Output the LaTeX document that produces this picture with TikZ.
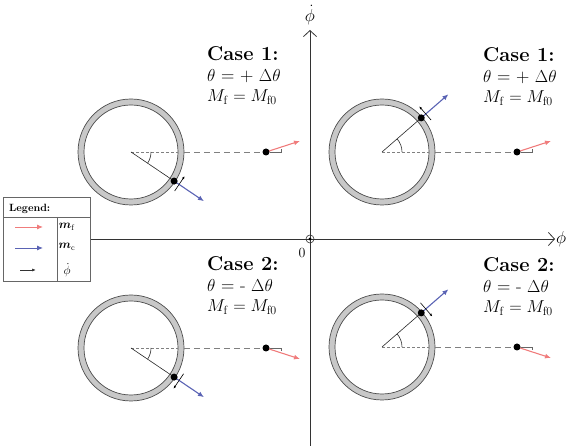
\documentclass[tikz,border=0pt]{standalone}
\usepackage{amsmath}
\usepackage{amssymb}
\usepackage{tikz}
\usetikzlibrary{arrows.meta, calc}
\definecolor{fred}{HTML}{F07C7C}
\definecolor{cblue}{HTML}{5A63B4}
\definecolor{ringgray}{HTML}{C8C8C8}
\definecolor{guidegray}{HTML}{808080}

\begin{document}
\begin{tikzpicture}[x=1pt, y=1pt,
    ring/.style    = {fill=ringgray, draw=black!70, line width=0.7pt, even odd rule},
    radline/.style = {draw=black!85, line width=0.6pt},
    guide/.style   = {draw=guidegray, line width=0.8pt, dash pattern=on 6pt off 4pt},
    guidein/.style = {draw=guidegray, line width=0.8pt, dash pattern=on 2.5pt off 2.5pt},
    fvec/.style    = {-{Latex[length=6pt,width=5pt]}, draw=fred, line width=1.1pt},
    cvec/.style    = {-{Latex[length=6pt,width=5pt]}, draw=cblue, line width=1.1pt},
    rate/.style    = {-{Latex[length=3pt,width=2.5pt]}, draw=black, line width=0.6pt},
    marker/.style  = {draw=black!60, line width=0.4pt},
    axis/.style    = {-{Straight Barb[length=6pt,width=13pt]}, draw=black!80, line width=0.8pt},
    casehead/.style= {anchor=base west, inner sep=0pt, font=\fontsize{20}{22}\selectfont\bfseries},
    caseeq/.style  = {anchor=base west, inner sep=0pt, font=\fontsize{18.5}{21}\selectfont},
    legtext/.style = {inner sep=0pt, font=\fontsize{11.5}{13}\selectfont}
  ]
  \useasboundingbox (0,0) rectangle (567,446);

  % axes
  \coordinate (xs) at (90,207);
  \coordinate (xe) at (555,207);
  \coordinate (ys) at (310,0);
  \coordinate (ye) at (310,416);
  \draw[axis] (xs) -- (xe);
  \draw[axis] (ys) -- (ye);
  \node[inner sep=0pt, font=\fontsize{16}{18}\selectfont] (xlab) at (561,207) {$\phi$};
  \node[inner sep=0pt, font=\fontsize{16}{18}\selectfont] (ylab) at (310,431) {$\dot{\phi}$};
  \node[circle, draw=black!80, line width=0.6pt, minimum size=8pt, inner sep=0pt] (origin) at (310,207) {};
  \fill (origin) circle[radius=1.6];
  \node[inner sep=0pt, font=\fontsize{14}{16}\selectfont] (zero) at (302,193) {0};

  % four cases
  \foreach \q/\cx/\cy/\ang/\sgn/\tx/\ty/\cs/\sg in {
      tl/131/294/-34/1/207/385/1/+,
      tr/382/294/41/1/483/384/1/+,
      bl/131/98/-34/-1/207/175/2/-,
      br/382/99/41/-1/483/174/2/-} {
    \pgfmathsetmacro\tang{\ang+90*\sgn}
    \pgfmathsetmacro\tback{\tang+180}
    \coordinate (c\q) at (\cx,\cy);
    \coordinate (e\q) at ($(c\q)+(53,0)$);
    \coordinate (i\q) at ($(c\q)+(47,0)$);
    \coordinate (d\q) at ($(c\q)+(\ang:52)$);
    \coordinate (r\q) at ($(c\q)+(135,0)$);
    \coordinate (rt\q) at ($(r\q)+(34,{11*\sgn})$);
    \coordinate (bt\q) at ($(d\q)+(\ang:36)$);
    \coordinate (ta\q) at ($(c\q)+(\ang:58)+(\tback:8)$);
    \coordinate (tb\q) at ($(c\q)+(\ang:58)+(\tang:10)$);

    \path[ring] (c\q) circle[radius=53] (c\q) circle[radius=47];
    \draw[guidein] (c\q) -- (i\q);
    \draw[guide] (e\q) -- (r\q);
    \draw[radline] (c\q) -- (d\q);
    \draw[radline] ($(c\q)+(20,0)$) arc[start angle=0, end angle=\ang, radius=20];
    \draw[marker] ($(r\q)+(4,0)$) -- ++(11,0) -- ++(0,{3*\sgn});
    \draw[fvec] (r\q) -- (rt\q);
    \draw[cvec] (d\q) -- (bt\q);
    \draw[rate] (ta\q) -- (tb\q);
    \fill (d\q) circle[radius=3.5];
    \fill (r\q) circle[radius=3.5];

    \node[casehead] (h\q) at (\tx,\ty) {Case \cs:};
    \node[caseeq] (t\q) at (\tx,\ty-21) {$\theta$ = \sg{} $\Delta\theta$};
    \node[caseeq] (m\q) at (\tx,\ty-41) {$M_\mathrm{f} = M_\mathrm{f0}$};
  }

  % legend
  \draw[line width=0.6pt, draw=black!60] (3,165) rectangle (90,249);
  \draw[line width=0.6pt, draw=black!60] (3,229) -- (90,229);
  \draw[line width=0.6pt, draw=black!60] (57,229) -- (57,165);
  \node[anchor=west, inner sep=0pt, font=\fontsize{10.5}{12}\selectfont\bfseries] (leghead) at (9,237) {Legend:};
  \coordinate (lfa) at (15,219);  \coordinate (lfb) at (43,219);
  \coordinate (lca) at (15,198);  \coordinate (lcb) at (43,198);
  \coordinate (lra) at (20,176);  \coordinate (lrb) at (36,176);
  \draw[fvec, line width=0.9pt] (lfa) -- (lfb);
  \draw[cvec, line width=0.9pt] (lca) -- (lcb);
  \draw[rate, line width=0.7pt, draw=black!80, -{Latex[length=4pt,width=3pt]}] (lra) -- (lrb);
  \node[legtext] (legf) at (67,219) {$\boldsymbol{m}_\mathrm{f}$};
  \node[legtext] (legc) at (67,199) {$\boldsymbol{m}_\mathrm{c}$};
  \node[legtext] (legr) at (67,176) {$\dot{\phi}$};

\end{tikzpicture}
\end{document}
